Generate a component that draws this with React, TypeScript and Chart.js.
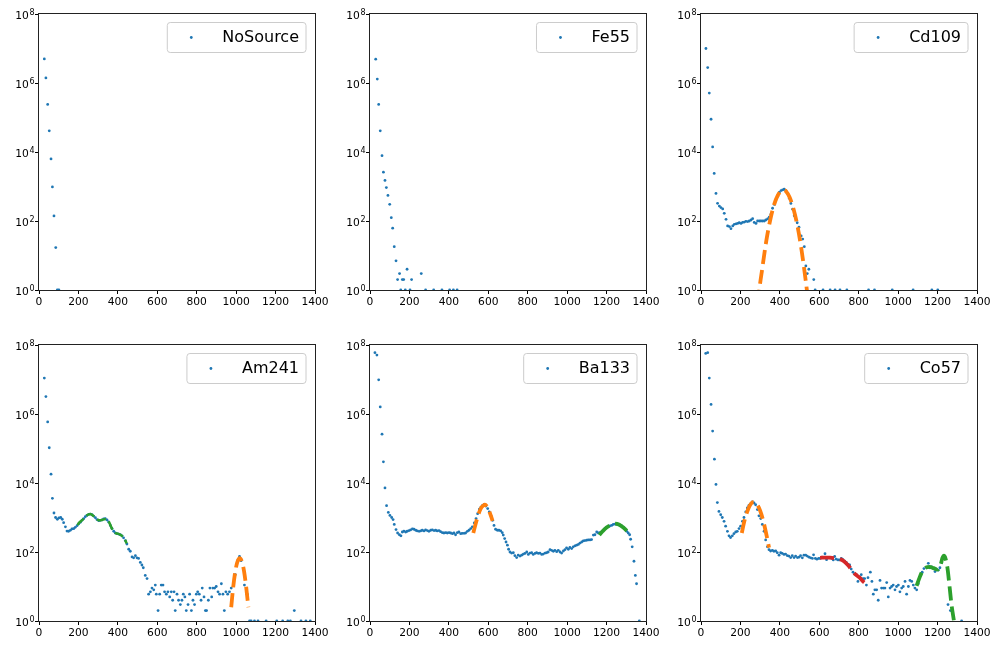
import React, { useEffect, useRef } from "react";
import { Chart, registerables } from "chart.js";

Chart.register(...registerables);

const FONT = '"DejaVu Sans", "Liberation Sans", sans-serif';
const BLUE = "#1f77b4";
const ORANGE = "#ff7f0e";
const GREEN = "#2ca02c";
const RED = "#d62728";

// axis ticks
const xTickStep = 200;
const yTicks = [1, 1e2, 1e4, 1e6, 1e8];
const yTickBase = "10";
const yTickExponents = ["0", "2", "4", "6", "8"];

// ---- data: [channel, counts] ----
const noSource: number[][] = [
  [27, 5.0e6], [35, 1.4e6], [44, 2.4e5], [52, 4.1e4], [61, 6.3e3], [68, 970], [76, 140], [85, 17], [93, 1], [101, 1],
];

const fe55: number[][] = [
  [29, 4.9e6], [37, 1.3e6], [44, 2.4e5], [52, 4.1e4], [61, 7.8e3], [68, 2.6e3], [76, 1.5e3], [83, 930], [91, 550], [100, 305],
  [108, 125], [115, 62], [123, 18], [132, 7], [140, 2], [150, 3], [156, 1], [164, 2], [171, 2], [179, 1],
  [188, 4], [203, 1], [211, 2], [260, 3], [282, 1], [323, 1], [365, 1], [404, 1], [423, 1], [442, 1],
];

const cd109: number[][] = [
  [25, 1.0e7], [34, 2.8e6], [42, 5.1e5], [51, 8.9e4], [59, 1.4e4], [67, 2.4e3], [76, 630], [84, 325], [93, 270], [101, 245],
  [110, 224], [118, 167], [127, 112], [135, 72], [144, 69], [152, 60], [161, 72], [169, 80], [178, 83], [186, 85],
  [194, 89], [203, 85], [211, 91], [220, 93], [228, 98], [237, 96], [245, 100], [254, 107], [262, 117], [270, 91],
  [279, 85], [287, 100], [296, 100], [304, 100], [313, 100], [321, 100], [329, 107], [338, 115], [346, 129], [355, 158],
  [363, 234], [372, 302], [380, 407], [389, 525], [397, 676], [406, 760], [414, 794], [422, 832], [431, 760], [439, 630],
  [448, 457], [456, 324], [465, 219], [473, 141], [488, 89], [497, 66], [508, 37], [516, 30], [524, 18], [532, 5],
  [539, 3], [547, 4], [572, 2], [579, 1], [619, 1], [655, 1], [680, 1], [705, 1], [740, 1], [850, 1],
  [880, 1], [970, 1], [1076, 1], [1171, 1], [1201, 1],
];
const cd109Fit: number[][] = [
  [290, 0.4], [296, 1], [310, 3.9], [330, 24], [350, 100], [370, 288], [390, 562], [410, 776], [420, 794], [430, 741],
  [450, 479], [470, 214], [490, 68], [510, 14.5], [530, 2.1], [537, 1], [544, 0.4],
];

const am241: number[][] = [
  [27, 1.1e7], [35, 3.2e6], [44, 5.9e5], [52, 1.05e5], [61, 1.8e4], [68, 3.6e3], [76, 1350], [84, 1000], [93, 890], [101, 970],
  [110, 1000], [118, 890], [125, 710], [134, 535], [142, 405], [150, 400], [159, 425], [167, 465], [176, 475], [184, 520],
  [193, 580], [201, 650], [210, 725], [218, 830], [227, 930], [235, 1060], [243, 1150], [252, 1230], [260, 1260], [269, 1200],
  [277, 1100], [286, 990], [294, 870], [303, 810], [311, 830], [320, 850], [328, 910], [336, 930], [345, 850], [353, 740],
  [362, 590], [370, 480], [379, 400], [387, 355], [396, 340], [404, 330], [412, 316], [421, 295], [429, 257], [438, 214],
  [446, 170], [455, 120], [463, 105], [472, 72], [480, 68], [489, 78], [497, 68], [505, 65], [514, 50], [522, 42],
  [529, 35], [539, 21], [548, 17], [556, 6], [565, 7], [573, 9], [582, 8], [590, 11], [595, 6], [604, 2],
  [612, 6], [620, 11], [629, 11], [637, 7], [646, 6], [654, 7], [663, 5], [671, 7], [678, 4], [685, 7],
  [691, 2], [700, 6], [708, 4], [717, 3], [725, 4], [732, 6], [740, 5], [747, 2], [756, 3], [764, 6],
  [773, 2], [781, 4], [789, 3], [798, 6], [805, 7], [813, 6], [822, 4], [828, 9], [837, 5], [844, 2],
  [850, 2], [859, 4], [867, 9], [876, 5], [882, 9], [891, 9], [899, 10], [908, 7], [916, 6], [925, 12],
  [933, 6], [940, 2], [948, 7], [957, 6], [966, 7], [975, 9], [995, 22], [1008, 56], [1017, 74], [1025, 56],
  [1042, 11], [1056, 6], [1068, 1], [1076, 1], [1093, 1], [1111, 1], [1152, 1], [1206, 1], [1236, 1], [1262, 1],
  [1275, 1], [1295, 2], [1329, 1], [1354, 1], [1376, 1],
];
const am241FitA: number[][] = [
  [195, 603], [205, 724], [220, 851], [240, 1120], [260, 1260], [275, 1120], [290, 933], [305, 832], [320, 851], [340, 912],
  [355, 741], [370, 479], [385, 363], [400, 339], [415, 309], [430, 257], [445, 178],
];
const am241FitB: number[][] = [
  [975, 2.5], [985, 9.5], [995, 25.7], [1005, 49], [1018, 66], [1030, 51], [1040, 28], [1050, 10.7], [1062, 2.5],
];

const ba133: number[][] = [
  [25, 6.0e7], [35, 5.1e7], [44, 9.8e6], [52, 1.6e6], [61, 2.6e5], [68, 4.1e4], [76, 7.2e3], [84, 2.2e3], [93, 1400], [101, 1150],
  [110, 1000], [117, 870], [123, 630], [132, 447], [140, 355], [149, 316], [157, 295], [164, 380], [172, 400], [181, 380],
  [189, 400], [198, 417], [206, 437], [215, 468], [223, 457], [232, 427], [240, 407], [249, 398], [257, 407], [265, 427],
  [274, 407], [282, 437], [291, 417], [299, 398], [308, 427], [316, 437], [325, 417], [333, 427], [341, 407], [350, 417],
  [358, 389], [367, 363], [375, 355], [384, 363], [392, 355], [401, 363], [409, 355], [418, 339], [426, 355], [434, 316],
  [443, 363], [451, 380], [460, 339], [468, 347], [477, 347], [485, 355], [494, 398], [502, 427], [511, 479], [519, 537],
  [529, 692], [538, 933], [546, 1290], [555, 1740], [563, 2000], [571, 2240], [580, 2400], [588, 2140], [597, 1820], [605, 1450],
  [614, 1100], [622, 832], [629, 589], [637, 457], [646, 427], [654, 427], [663, 407], [671, 363], [676, 309], [683, 245],
  [690, 195], [697, 158], [703, 120], [710, 100], [718, 93], [727, 95], [735, 78], [744, 69], [752, 81], [761, 76],
  [769, 81], [778, 87], [786, 91], [795, 100], [803, 85], [811, 93], [820, 95], [828, 85], [837, 91], [845, 95],
  [854, 91], [862, 93], [871, 85], [879, 87], [888, 93], [896, 95], [904, 100], [913, 117], [921, 112], [930, 105],
  [938, 112], [947, 102], [955, 112], [964, 100], [972, 93], [981, 107], [989, 117], [997, 132], [1006, 120], [1014, 135],
  [1023, 126], [1031, 141], [1040, 151], [1048, 158], [1057, 166], [1065, 182], [1074, 195], [1082, 209], [1090, 214], [1099, 219],
  [1107, 224], [1116, 224], [1124, 229], [1133, 309], [1141, 316], [1150, 380], [1158, 355], [1166, 363], [1175, 380], [1183, 427],
  [1192, 479], [1200, 513], [1209, 537], [1217, 575], [1226, 589], [1234, 631], [1243, 646], [1251, 631], [1259, 617], [1268, 589],
  [1276, 575], [1285, 513], [1293, 457], [1302, 398], [1310, 355], [1317, 316], [1322, 234], [1330, 141], [1339, 54], [1346, 21],
  [1352, 12], [1366, 1],
];
const ba133FitA: number[][] = [
  [524, 355], [535, 631], [545, 1000], [555, 1480], [565, 1950], [575, 2240], [583, 2340], [592, 2140], [602, 1660], [612, 1175], [622, 794],
];
const ba133FitB: number[][] = [
  [1163, 309], [1180, 398], [1200, 513], [1220, 603], [1243, 661], [1265, 617], [1285, 513], [1305, 398], [1322, 309],
];

const co57: number[][] = [
  [24, 5.7e7], [34, 6.0e7], [42, 1.1e7], [51, 1.9e6], [59, 3.2e5], [68, 4.9e4], [76, 9.1e3], [83, 2.7e3], [91, 1500], [100, 1200],
  [108, 1000], [117, 776], [125, 562], [134, 398], [142, 295], [150, 263], [159, 295], [167, 339], [176, 380], [184, 398],
  [193, 479], [201, 562], [210, 776], [218, 1000], [227, 1450], [235, 1900], [243, 2240], [252, 2510], [260, 2820], [269, 2630],
  [277, 2340], [286, 1700], [294, 1120], [303, 930], [311, 630], [320, 400], [328, 224], [337, 141], [345, 117], [353, 107],
  [362, 112], [370, 105], [379, 107], [387, 95], [396, 81], [404, 95], [412, 91], [421, 85], [429, 87], [438, 78],
  [446, 76], [455, 69], [463, 78], [472, 69], [480, 76], [489, 69], [497, 71], [505, 78], [514, 68], [522, 81],
  [531, 81], [539, 76], [548, 71], [556, 68], [565, 65], [571, 83], [580, 65], [588, 62], [597, 65], [605, 65],
  [614, 71], [622, 69], [629, 89], [637, 60], [646, 69], [654, 68], [663, 65], [671, 59], [678, 74], [686, 62],
  [695, 59], [703, 59], [712, 65], [720, 60], [729, 54], [737, 50], [746, 44], [754, 42], [762, 32], [771, 26],
  [779, 23], [788, 22], [796, 14], [805, 19], [813, 22], [822, 17], [830, 17], [839, 11], [847, 18], [859, 26],
  [867, 14], [874, 6], [882, 8], [891, 8], [899, 4], [908, 15], [916, 9], [925, 9], [933, 9], [942, 13],
  [950, 5], [959, 9], [967, 10], [975, 11], [984, 8], [992, 10], [1001, 11], [1009, 7], [1018, 9], [1026, 10],
  [1035, 14], [1043, 6], [1052, 10], [1060, 15], [1069, 14], [1077, 11], [1085, 9], [1094, 8], [1102, 12], [1114, 21],
  [1122, 26], [1131, 33], [1145, 35], [1153, 47], [1161, 35], [1170, 37], [1178, 33], [1187, 27], [1195, 32], [1204, 30],
  [1212, 35], [1221, 50], [1229, 72], [1237, 74], [1253, 3], [1265, 2], [1322, 1],
];
const co57FitA: number[][] = [
  [207, 355], [220, 794], [235, 1510], [250, 2340], [268, 2820], [285, 2400], [300, 1580], [315, 832], [330, 355], [345, 135],
];
const co57FitB: number[][] = [
  [604, 68], [630, 69], [655, 69], [680, 66], [705, 62], [725, 54], [745, 42], [765, 30], [785, 22], [805, 18], [822, 14], [840, 11.5],
];
const co57FitC: number[][] = [
  [1094, 10.5], [1110, 19], [1125, 29], [1140, 35], [1160, 37], [1180, 34], [1200, 31], [1215, 42], [1225, 68], [1232, 78],
  [1240, 66], [1250, 35], [1260, 11], [1270, 3.2], [1280, 1.3], [1292, 0.5],
];

// ---- layout ----
const AXIS_W = 39;
const TOP_PAD = 14;
const PLOT = 276;
const RIGHT_PAD = 20;
const XAXIS_H = 26;
const CW = AXIS_W + PLOT + RIGHT_PAD;
const CH = TOP_PAD + PLOT + XAXIS_H;
const TICK_SIZE = 10.7;
const SUP_SIZE = 8;

type Fit = { points: number[][]; color: string; width: number; dash: number[] };
type Spec = { name: string; points: number[][]; fits: Fit[]; left: number; top: number };

const thick = (points: number[][], color: string): Fit => ({ points, color, width: 3.8, dash: [14, 6] });

const panels: Spec[] = [
  { name: "NoSource", points: noSource, fits: [], left: 39, top: 14 },
  { name: "Fe55", points: fe55, fits: [], left: 370, top: 14 },
  { name: "Cd109", points: cd109, fits: [thick(cd109Fit, ORANGE)], left: 701, top: 14 },
  {
    name: "Am241", points: am241,
    fits: [{ points: am241FitA, color: GREEN, width: 2.5, dash: [9, 4] }, thick(am241FitB, ORANGE)],
    left: 39, top: 345,
  },
  { name: "Ba133", points: ba133, fits: [thick(ba133FitA, ORANGE), thick(ba133FitB, GREEN)], left: 370, top: 345 },
  {
    name: "Co57", points: co57,
    fits: [thick(co57FitA, ORANGE), thick(co57FitB, RED), thick(co57FitC, GREEN)],
    left: 701, top: 345,
  },
];

function Panel({ spec }: { spec: Spec }) {
  const ref = useRef<HTMLCanvasElement>(null);
  useEffect(() => {
    const canvas = ref.current;
    if (!canvas) return;
    const datasets: any[] = spec.fits.map((f) => ({
      data: f.points.map(([x, y]) => ({ x, y })),
      showLine: true,
      pointRadius: 0,
      borderColor: f.color,
      borderWidth: f.width,
      borderDash: f.dash,
      borderCapStyle: "butt",
      cubicInterpolationMode: "monotone",
      fill: false,
      order: 0,
    }));
    datasets.push({
      label: spec.name,
      data: spec.points.map(([x, y]) => ({ x, y })),
      showLine: false,
      pointRadius: 1.4,
      pointBackgroundColor: BLUE,
      pointBorderWidth: 0,
      order: 1,
    });

    const framePlugin = {
      id: "frameAndLegend",
      afterDraw(chart: any) {
        const { ctx, chartArea: a } = chart;
        ctx.save();
        ctx.strokeStyle = "#222";
        ctx.lineWidth = 1;
        ctx.strokeRect(a.left - 0.5, a.top - 0.5, a.right - a.left + 1, a.bottom - a.top + 1);

        // y tick labels: 10 with superscript exponent
        const yScale = chart.scales.y;
        ctx.fillStyle = "#000";
        ctx.textBaseline = "alphabetic";
        ctx.textAlign = "left";
        yTicks.forEach((v, i) => {
          const py = yScale.getPixelForValue(v);
          ctx.font = `${TICK_SIZE}px ${FONT}`;
          const wb = ctx.measureText(yTickBase).width;
          ctx.font = `${SUP_SIZE}px ${FONT}`;
          const we = ctx.measureText(yTickExponents[i]).width;
          const right = a.left - 4.5;
          const x0 = right - we - 0.6 - wb;
          ctx.font = `${TICK_SIZE}px ${FONT}`;
          ctx.fillText(yTickBase, x0, py + 4.6);
          ctx.font = `${SUP_SIZE}px ${FONT}`;
          ctx.fillText(yTickExponents[i], x0 + wb + 0.6, py + 0.6);
        });

        // legend
        ctx.font = `16px ${FONT}`;
        const tw = ctx.measureText(spec.name).width;
        const bw = tw + 55 + 7;
        const bh = 30;
        const bx = a.right - 9 - bw;
        const by = a.top + 8.5;
        const r = 3;
        ctx.beginPath();
        ctx.moveTo(bx + r, by);
        ctx.lineTo(bx + bw - r, by);
        ctx.arcTo(bx + bw, by, bx + bw, by + r, r);
        ctx.lineTo(bx + bw, by + bh - r);
        ctx.arcTo(bx + bw, by + bh, bx + bw - r, by + bh, r);
        ctx.lineTo(bx + r, by + bh);
        ctx.arcTo(bx, by + bh, bx, by + bh - r, r);
        ctx.lineTo(bx, by + r);
        ctx.arcTo(bx, by, bx + r, by, r);
        ctx.closePath();
        ctx.fillStyle = "rgba(255,255,255,0.8)";
        ctx.fill();
        ctx.strokeStyle = "#cccccc";
        ctx.stroke();
        ctx.beginPath();
        ctx.arc(bx + 24, by + bh / 2, 1.4, 0, Math.PI * 2);
        ctx.fillStyle = BLUE;
        ctx.fill();
        ctx.fillStyle = "#000";
        ctx.textBaseline = "middle";
        ctx.textAlign = "left";
        ctx.fillText(spec.name, bx + 55, by + bh / 2 + 0.5);
        ctx.restore();
      },
    };

    const tickFont = { family: FONT, size: TICK_SIZE };
    const chart = new Chart(canvas, {
      type: "scatter",
      data: { datasets },
      options: {
        animation: false,
        responsive: false,
        devicePixelRatio: 1,
        events: [],
        layout: { padding: { left: 0, top: TOP_PAD, right: RIGHT_PAD, bottom: 0 } },
        plugins: { legend: { display: false }, tooltip: { enabled: false } },
        scales: {
          x: {
            type: "linear",
            min: 0,
            max: 1400,
            afterFit: (s: any) => { s.height = XAXIS_H; },
            ticks: {
              stepSize: xTickStep,
              font: tickFont,
              color: "#000",
              padding: 2,
              maxRotation: 0,
              autoSkip: false,
              callback: (v: any) => String(v),
            },
            grid: { drawOnChartArea: false, drawTicks: true, tickLength: 4, color: "#000", lineWidth: 1 },
            border: { display: false },
          },
          y: {
            type: "logarithmic",
            min: 1,
            max: 1e8,
            afterBuildTicks: (s: any) => { s.ticks = yTicks.map((v) => ({ value: v })); },
            afterFit: (s: any) => { s.width = AXIS_W; },
            ticks: {
              display: false,
              autoSkip: false,
            },
            grid: { drawOnChartArea: false, drawTicks: true, tickLength: 4, color: "#000", lineWidth: 1 },
            border: { display: false },
          },
        },
      } as any,
      plugins: [framePlugin],
    });
    return () => chart.destroy();
  }, [spec]);

  return (
    <canvas
      ref={ref}
      width={CW}
      height={CH}
      style={{ position: "absolute", left: spec.left - AXIS_W, top: spec.top - TOP_PAD, width: CW, height: CH, display: "block" }}
    />
  );
}

export default function App() {
  return (
    <div style={{ position: "absolute", left: 0, top: 0, width: 997, height: 648, background: "#fff", overflow: "hidden" }}>
      {panels.map((p) => (
        <Panel key={p.name} spec={p} />
      ))}
    </div>
  );
}
